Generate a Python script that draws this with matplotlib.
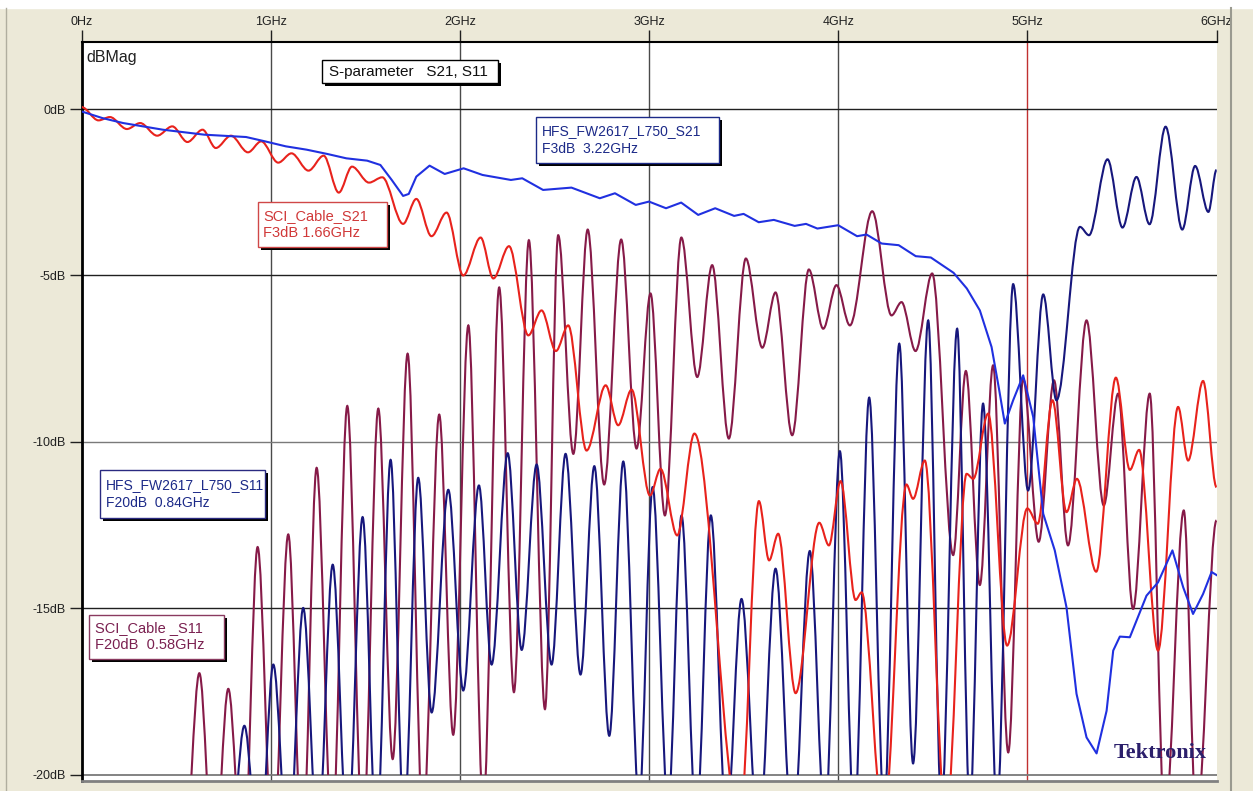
import matplotlib
matplotlib.use("Agg")
from matplotlib import pyplot as plt
from matplotlib.path import Path
from matplotlib.patches import PathPatch, Rectangle
from matplotlib.lines import Line2D
from matplotlib import patheffects as pe

plt.rcParams["font.family"] = ["Liberation Sans", "DejaVu Sans"]

# frequency ticks (GHz) and level ticks (dB)
x_ticks = [0, 1, 2, 3, 4, 5, 6]
x_tick_labels = ["0Hz", "1GHz", "2GHz", "3GHz", "4GHz", "5GHz", "6GHz"]
y_ticks = [0, -5, -10, -15, -20]
y_tick_labels = ["0dB", "-5dB", "-10dB", "-15dB", "-20dB"]

# HFS_FW2617_L750_S21 (read point by point)
hfs_s21_freq = [0.00, 0.11, 0.22, 0.43, 0.65, 0.87, 0.97, 1.08, 1.19, 1.30, 1.40, 1.51, 1.58, 1.64,
                1.70, 1.73, 1.77, 1.84, 1.92, 2.02, 2.12, 2.27, 2.33, 2.44, 2.59, 2.74, 2.82, 2.93,
                3.00, 3.09, 3.17, 3.26, 3.35, 3.45, 3.50, 3.58, 3.66, 3.77, 3.83, 3.89, 4.00, 4.10,
                4.15, 4.23, 4.32, 4.41, 4.49, 4.61, 4.68, 4.749, 4.811, 4.85, 4.881, 4.925, 4.978,
                5.031, 5.084, 5.145, 5.207, 5.260, 5.313, 5.366, 5.419, 5.454, 5.489, 5.542, 5.630,
                5.691, 5.767, 5.824, 5.876, 5.929, 5.974, 6.00]
hfs_s21_db = [-0.07, -0.27, -0.42, -0.62, -0.77, -0.84, -0.97, -1.12, -1.22, -1.35, -1.48, -1.55, -1.68, -2.13,
              -2.61, -2.55, -2.03, -1.70, -1.95, -1.78, -1.98, -2.13, -2.08, -2.43, -2.36, -2.68, -2.53, -2.88,
              -2.78, -2.98, -2.81, -3.18, -2.98, -3.21, -3.15, -3.40, -3.33, -3.51, -3.45, -3.59, -3.49, -3.82,
              -3.77, -4.04, -4.09, -4.42, -4.46, -4.92, -5.39, -6.05, -7.15, -8.40, -9.45, -8.75, -8.00,
              -9.25, -12.16, -13.26, -14.97, -17.57, -18.88, -19.36, -18.08, -16.27, -15.85, -15.87, -14.62,
              -14.22, -13.26, -14.37, -15.17, -14.57, -13.91, -14.00]

# SCI_Cable_S21 (peaks and dips)
sci_s21_freq = [0.00, 0.09, 0.15, 0.24, 0.31, 0.40, 0.48, 0.56, 0.64, 0.71, 0.79, 0.88, 0.95, 1.04,
                1.11, 1.20, 1.28, 1.36, 1.43, 1.52, 1.59, 1.70, 1.77, 1.85, 1.93, 2.018, 2.11, 2.177,
                2.26, 2.362, 2.432, 2.508, 2.573, 2.670, 2.771, 2.837, 2.908, 3.005, 3.061, 3.149,
                3.240, 3.480, 3.581, 3.635, 3.683, 3.775, 3.900, 3.951, 4.013, 4.092, 4.124, 4.240,
                4.361, 4.396, 4.458, 4.570, 4.679, 4.714, 4.793, 4.893, 5.000, 5.055, 5.133, 5.207,
                5.262, 5.364, 5.468, 5.542, 5.591, 5.691, 5.797, 5.850, 5.929, 6.00]
sci_s21_db = [0.06, -0.34, -0.24, -0.60, -0.42, -0.80, -0.52, -0.99, -0.62, -1.17, -0.80, -1.30, -0.97, -1.61,
              -1.33, -1.85, -1.40, -2.51, -1.73, -2.21, -2.05, -3.45, -2.70, -3.82, -3.11, -5.00, -3.86, -5.09,
              -4.12, -6.80, -6.05, -7.27, -6.50, -10.26, -8.30, -9.50, -8.43, -11.61, -10.81, -12.81,
              -9.75, -21.5, -11.78, -13.56, -12.76, -17.55, -12.43, -13.11, -11.18, -14.75, -14.52, -21.5,
              -11.28, -11.71, -10.56, -21.5, -10.96, -11.11, -9.15, -16.12, -12.00, -12.46, -8.75, -12.11,
              -11.11, -13.90, -8.07, -10.84, -10.24, -16.27, -8.95, -10.56, -8.17, -11.36]

# HFS_FW2617_L750_S11 (peaks and dips, dips under -20 dB estimated)
hfs_s11_freq = [0.78, 0.861, 0.94, 1.014, 1.093, 1.172, 1.250, 1.328, 1.407, 1.486, 1.560, 1.634, 1.705,
                1.780, 1.851, 1.939, 2.018, 2.101, 2.168, 2.253, 2.327, 2.406, 2.485, 2.559, 2.638, 2.711,
                2.790, 2.864, 2.948, 3.019, 3.101, 3.172, 3.250, 3.327, 3.410, 3.489, 3.580, 3.669, 3.760,
                3.850, 3.930, 4.009, 4.085, 4.164, 4.243, 4.323, 4.396, 4.476, 4.546, 4.629, 4.696, 4.766,
                4.840, 4.925, 5.004, 5.084, 5.154, 5.278, 5.326, 5.424, 5.503, 5.577, 5.646, 5.731, 5.819,
                5.887, 5.957, 6.00]
hfs_s11_db = [-22.7, -18.53, -22.7, -16.69, -22.5, -14.99, -22.0, -13.69, -22.0, -12.26, -22.0, -10.54, -21.5,
              -11.08, -18.13, -11.44, -17.47, -11.31, -16.69, -10.34, -16.25, -10.68, -16.69, -10.36, -16.99, -10.73,
              -18.83, -10.59, -20.8, -11.36, -21.0, -12.21, -21.5, -12.21, -21.5, -14.72, -22.0, -13.81, -22.0,
              -13.28, -21.5, -10.28, -21.5, -8.67, -21.0, -7.05, -19.66, -6.35, -21.0, -6.60, -21.0, -8.85,
              -21.0, -5.26, -11.46, -5.57, -8.75, -3.54, -3.79, -1.51, -3.56, -2.04, -3.46, -0.53, -3.62,
              -1.71, -3.09, -1.83]

# SCI_Cable_S11 (peaks and dips, dips under -20 dB estimated)
sci_s11_freq = [0.54, 0.623, 0.70, 0.776, 0.855, 0.931, 1.012, 1.093, 1.168, 1.243, 1.325, 1.405, 1.487,
                1.569, 1.645, 1.724, 1.805, 1.891, 1.965, 2.045, 2.124, 2.208, 2.286, 2.365, 2.450, 2.520,
                2.600, 2.676, 2.763, 2.853, 2.934, 3.008, 3.084, 3.171, 3.255, 3.334, 3.422, 3.512, 3.599,
                3.669, 3.757, 3.845, 3.921, 3.991, 4.062, 4.180, 4.282, 4.335, 4.409, 4.497, 4.608, 4.675,
                4.749, 4.819, 4.899, 4.978, 5.060, 5.141, 5.215, 5.313, 5.404, 5.480, 5.559, 5.647, 5.727,
                5.827, 5.894, 6.00]
sci_s11_db = [-23.0, -16.95, -23.0, -17.42, -23.0, -13.16, -22.5, -12.78, -22.5, -10.78, -22.0, -8.92, -22.0,
              -9.00, -19.53, -7.35, -21.5, -9.18, -18.80, -6.50, -21.0, -5.36, -17.52, -3.94, -18.03, -3.79,
              -10.36, -3.62, -11.28, -3.92, -10.20, -5.54, -12.21, -3.86, -8.05, -4.69, -9.90, -4.49, -7.17,
              -5.51, -9.80, -4.82, -6.60, -5.29, -6.50, -3.07, -6.20, -5.80, -7.27, -4.94, -13.40, -7.87,
              -14.30, -7.70, -19.33, -8.10, -13.00, -8.15, -13.11, -6.35, -11.91, -8.55, -15.02, -8.55, -21.5,
              -12.06, -21.5, -12.36]

BLUE = "#2030E0"
RED = "#E8221C"
NAVY = "#17177C"
MAROON = "#861A48"
BEIGE = "#ECE9D8"


def extrema_path(freqs, levels):
    """
    Joins consecutive peaks/dips with cubic segments that are flat at each extremum.
    """
    verts = [(freqs[0], levels[0])]
    codes = [Path.MOVETO]
    for i in range(len(freqs) - 1):
        x0, y0, x1, y1 = freqs[i], levels[i], freqs[i + 1], levels[i + 1]
        dx = x1 - x0
        verts += [(x0 + dx / 3, y0), (x1 - dx / 3, y1), (x1, y1)]
        codes += [Path.CURVE4] * 3
    return Path(verts, codes)


def label_box(ax, x0, x1, y_top, y_bot, text_x, text, color, edge, size=10):
    box = Rectangle((x0, y_bot), x1 - x0, y_top - y_bot, facecolor="white", edgecolor=edge, lw=1.0, zorder=8,
                    path_effects=[pe.withSimplePatchShadow(offset=(2.2, -2.2), shadow_rgbFace="black", alpha=1.0)])
    ax.add_patch(box)
    ax.text(text_x, (y_top + y_bot) / 2, text, color=color, fontsize=size, ha="left", va="center",
            linespacing=1.3, zorder=9)


fig = plt.figure(figsize=(12.53, 7.91), dpi=100, facecolor=BEIGE)
fig.add_artist(Rectangle((0, 1 - 8 / 791), 1, 8 / 791, transform=fig.transFigure, color="white", zorder=0))
fig.add_artist(Line2D([1231 / 1253] * 2, [0, 1 - 8 / 791], transform=fig.transFigure, color="#9a9a90", lw=1.5))
fig.add_artist(Line2D([6 / 1253] * 2, [0, 1 - 8 / 791], transform=fig.transFigure, color="#b0ae9f", lw=1.0))

ax = fig.add_axes([81.5 / 1253, 10.3 / 791, 1135 / 1253, 738.7 / 791])
ax.set_facecolor("white")
ax.set_xlim(0, 6)
ax.set_ylim(-20.18, 2.015)

# grid
for xv in x_ticks[1:-1]:
    ax.axvline(xv, color="#c03030" if xv == 5 else "#4a4a4a", lw=1.0, zorder=1)
for yv in y_ticks:
    col = "#7a7a7a" if yv in (-10, -20) else "#202020"
    ax.axhline(yv, color=col, lw=1.3 if yv == -20 else 1.0, zorder=1)

clip = Rectangle((0, -20), 6, 30, transform=ax.transData)

for freqs, levels, col in [(sci_s11_freq, sci_s11_db, MAROON), (hfs_s11_freq, hfs_s11_db, NAVY),
                           (sci_s21_freq, sci_s21_db, RED)]:
    patch = PathPatch(extrema_path(freqs, levels), fill=False, edgecolor=col, lw=1.5, zorder=3,
                      transform=ax.transData)
    ax.add_patch(patch)
    patch.set_clip_path(clip)

(blue_line,) = ax.plot(hfs_s21_freq, hfs_s21_db, color=BLUE, lw=1.5, zorder=4)
blue_line.set_clip_path(clip)

# axes frame and ticks
ax.xaxis.tick_top()
ax.set_xticks(x_ticks)
ax.set_xticklabels(x_tick_labels)
ax.set_yticks(y_ticks)
ax.set_yticklabels(y_tick_labels)
ax.tick_params(axis="x", direction="out", length=9, width=1, pad=1, labelsize=9, colors="#202020")
ax.tick_params(axis="y", direction="out", length=9, width=1, pad=2, labelsize=9, colors="#202020")
ax.spines["right"].set_visible(False)
ax.spines["top"].set_linewidth(1.5)
ax.spines["left"].set_linewidth(2.0)
ax.spines["bottom"].set_color("#808080")
ax.spines["bottom"].set_linewidth(2.0)

ax.text(0.026, 1.56, "dBMag", fontsize=11.5, ha="left", va="center", color="#202020")

label_box(ax, 1.272, 2.201, 1.474, 0.782, 1.306, "S-parameter   S21, S11", "#101010", "black", size=11)
label_box(ax, 2.402, 3.370, -0.241, -1.624, 2.434, "HFS_FW2617_L750_S21\nF3dB  3.22GHz", "#1C2A88", "#1C2A88")
label_box(ax, 0.933, 1.615, -2.797, -4.150, 0.959, "SCI_Cable_S21\nF3dB 1.66GHz", "#D03838", "#D04848", size=10.5)
label_box(ax, 0.098, 0.970, -10.83, -12.30, 0.129, "HFS_FW2617_L750_S11\nF20dB  0.84GHz", "#1C2A88", "#2A2A80")
label_box(ax, 0.040, 0.753, -15.19, -16.51, 0.071, "SCI_Cable _S11\nF20dB  0.58GHz", "#7A2050", "#8A3A60",
          size=10.5)

ax.text(5.70, -19.34, "Tektronix", fontsize=16, fontweight="bold", ha="center", va="center",
        color="#2B1F6B", family=["Liberation Serif", "DejaVu Serif"], zorder=9)

fig.savefig("out.png", dpi=100, facecolor=BEIGE)
